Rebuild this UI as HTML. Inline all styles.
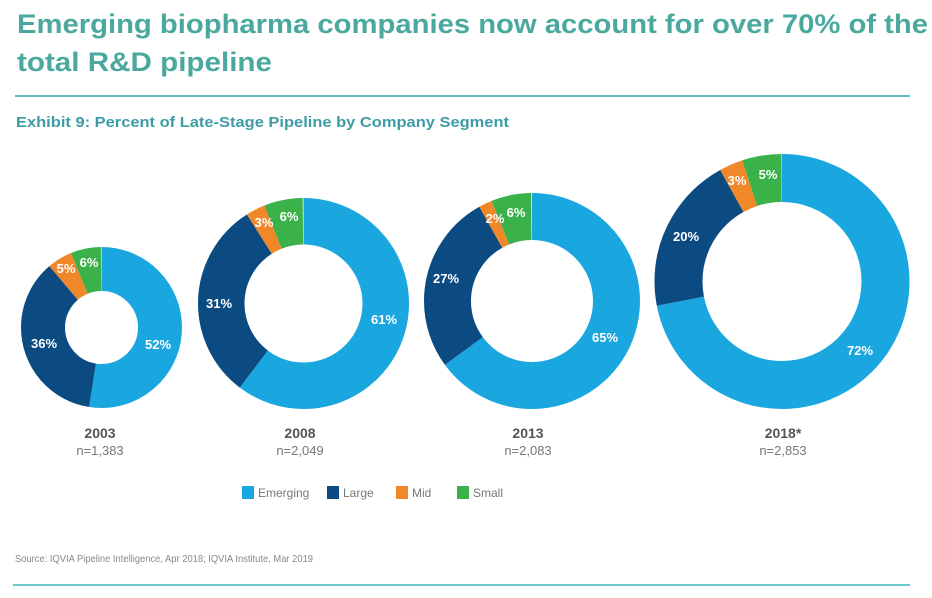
<!DOCTYPE html>
<html><head><meta charset="utf-8"><style>
body{margin:0;background:#fff;width:932px;height:593px;overflow:hidden;font-family:"Liberation Sans",sans-serif;}
</style></head><body>
<svg width="932" height="593" xmlns="http://www.w3.org/2000/svg" font-family="Liberation Sans, sans-serif">
<text x="17" y="33" font-size="27" font-weight="bold" fill="#4aa89e" textLength="911" lengthAdjust="spacingAndGlyphs">Emerging biopharma companies now account for over 70% of the</text>
<text x="17" y="71" font-size="27" font-weight="bold" fill="#4aa89e" textLength="255" lengthAdjust="spacingAndGlyphs">total R&amp;D pipeline</text>
<rect x="15" y="95" width="895" height="2" fill="#5fbcc2"/>
<text x="16" y="127" font-size="14.5" font-weight="bold" fill="#3d9ca6" textLength="493" lengthAdjust="spacingAndGlyphs">Exhibit 9: Percent of Late-Stage Pipeline by Company Segment</text>
<g fill="none">
<g transform="rotate(-90 101.5 327.5)">
<circle cx="101.5" cy="327.5" r="58.5" stroke-width="44" stroke="#1aa7df" pathLength="99" stroke-dasharray="52 99"/>
<circle cx="101.5" cy="327.5" r="58.5" stroke-width="44" stroke="#0b4b82" pathLength="99" stroke-dasharray="36 99" stroke-dashoffset="-52"/>
<circle cx="101.5" cy="327.5" r="58.5" stroke-width="44" stroke="#f0882a" pathLength="99" stroke-dasharray="5 99" stroke-dashoffset="-88"/>
<circle cx="101.5" cy="327.5" r="58.5" stroke-width="44" stroke="#3bb14a" pathLength="99" stroke-dasharray="6 99" stroke-dashoffset="-93"/>
</g>
<g transform="rotate(-90 303.5 303.5)">
<circle cx="303.5" cy="303.5" r="82.25" stroke-width="46.5" stroke="#1aa7df" pathLength="101" stroke-dasharray="61 101"/>
<circle cx="303.5" cy="303.5" r="82.25" stroke-width="46.5" stroke="#0b4b82" pathLength="101" stroke-dasharray="31 101" stroke-dashoffset="-61"/>
<circle cx="303.5" cy="303.5" r="82.25" stroke-width="46.5" stroke="#f0882a" pathLength="101" stroke-dasharray="3 101" stroke-dashoffset="-92"/>
<circle cx="303.5" cy="303.5" r="82.25" stroke-width="46.5" stroke="#3bb14a" pathLength="101" stroke-dasharray="6 101" stroke-dashoffset="-95"/>
</g>
<g transform="rotate(-90 532 301)">
<circle cx="532" cy="301" r="84.5" stroke-width="47" stroke="#1aa7df" pathLength="100" stroke-dasharray="65 100"/>
<circle cx="532" cy="301" r="84.5" stroke-width="47" stroke="#0b4b82" pathLength="100" stroke-dasharray="27 100" stroke-dashoffset="-65"/>
<circle cx="532" cy="301" r="84.5" stroke-width="47" stroke="#f0882a" pathLength="100" stroke-dasharray="2 100" stroke-dashoffset="-92"/>
<circle cx="532" cy="301" r="84.5" stroke-width="47" stroke="#3bb14a" pathLength="100" stroke-dasharray="6 100" stroke-dashoffset="-94"/>
</g>
<g transform="rotate(-90 782 281.5)">
<circle cx="782" cy="281.5" r="103.5" stroke-width="48" stroke="#1aa7df" pathLength="100" stroke-dasharray="72 100"/>
<circle cx="782" cy="281.5" r="103.5" stroke-width="48" stroke="#0b4b82" pathLength="100" stroke-dasharray="20 100" stroke-dashoffset="-72"/>
<circle cx="782" cy="281.5" r="103.5" stroke-width="48" stroke="#f0882a" pathLength="100" stroke-dasharray="3 100" stroke-dashoffset="-92"/>
<circle cx="782" cy="281.5" r="103.5" stroke-width="48" stroke="#3bb14a" pathLength="100" stroke-dasharray="5 100" stroke-dashoffset="-95"/>
</g>
</g>
<g fill="#fff" font-size="13" font-weight="bold" text-anchor="middle">
<text x="158" y="349">52%</text><text x="44" y="348">36%</text><text x="66" y="273">5%</text><text x="89" y="267">6%</text>
<text x="384" y="324">61%</text><text x="219" y="308">31%</text><text x="264" y="227">3%</text><text x="289" y="221">6%</text>
<text x="605" y="342">65%</text><text x="446" y="283">27%</text><text x="495" y="223">2%</text><text x="516" y="217">6%</text>
<text x="860" y="355">72%</text><text x="686" y="241">20%</text><text x="737" y="185">3%</text><text x="768" y="179">5%</text>
</g>
<g text-anchor="middle">
<text x="100" y="438" font-size="14" font-weight="bold" fill="#555">2003</text><text x="100" y="455" font-size="13" fill="#777">n=1,383</text>
<text x="300" y="438" font-size="14" font-weight="bold" fill="#555">2008</text><text x="300" y="455" font-size="13" fill="#777">n=2,049</text>
<text x="528" y="438" font-size="14" font-weight="bold" fill="#555">2013</text><text x="528" y="455" font-size="13" fill="#777">n=2,083</text>
<text x="783" y="438" font-size="14" font-weight="bold" fill="#555">2018*</text><text x="783" y="455" font-size="13" fill="#777">n=2,853</text>
</g>
<g font-size="12" fill="#777">
<rect x="242" y="486" width="12" height="13" fill="#1aa7df"/><text x="258" y="497">Emerging</text>
<rect x="327" y="486" width="12" height="13" fill="#0b4b82"/><text x="343" y="497">Large</text>
<rect x="396" y="486" width="12" height="13" fill="#f0882a"/><text x="412" y="497">Mid</text>
<rect x="457" y="486" width="12" height="13" fill="#3bb14a"/><text x="473" y="497">Small</text>
</g>
<text x="15" y="562" font-size="10.5" fill="#888" textLength="298" lengthAdjust="spacingAndGlyphs">Source: IQVIA Pipeline Intelligence, Apr 2018; IQVIA Institute, Mar 2019</text>
<rect x="13" y="584" width="897" height="2" fill="#6cc6cc"/>
</svg>
</body></html>
